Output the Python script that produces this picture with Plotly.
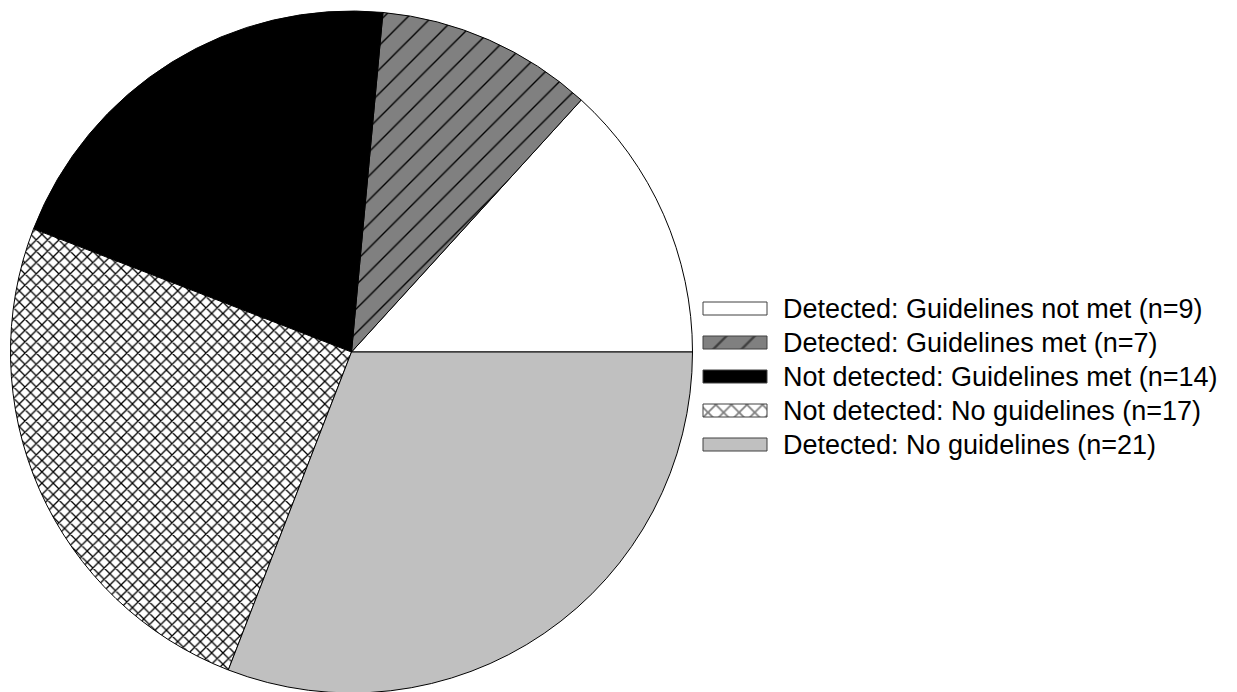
import plotly.graph_objects as go

labels = [
    "Detected: Guidelines not met (n=9)",
    "Detected: Guidelines met (n=7)",
    "Not detected: Guidelines met (n=14)",
    "Not detected: No guidelines (n=17)",
    "Detected: No guidelines (n=21)",
]
values = [9, 7, 14, 17, 21]
fill_colors = ["#ffffff", "#808080", "#000000", "#ffffff", "#c0c0c0"]
patterns = ["", "/", "", "x", ""]

W, H = 1237, 692
OFF = 8  # page body margin offset compensation

fig = go.Figure()

# first slice should begin at 3 o'clock and run counterclockwise
start_rot = 90 - 360 * values[0] / sum(values)

cx, cy, R = 351.5 - OFF, 352 - OFF, 341
fig.add_trace(go.Pie(
    labels=labels,
    values=values,
    sort=False,
    direction="counterclockwise",
    rotation=start_rot,
    textinfo="none",
    hoverinfo="skip",
    showlegend=False,
    marker=dict(
        colors=fill_colors,
        line=dict(color="black", width=1),
        pattern=dict(
            shape=patterns,
            fgcolor="black",
            bgcolor=fill_colors,
            size=[8, 17, 8, 8, 8],
            solidity=[0.1, 0.08, 0.1, 0.3, 0.1],
        ),
    ),
    domain=dict(x=[(cx - R) / W, (cx + R) / W],
                y=[(H - cy - R) / H, (H - cy + R) / H]),
))

# custom legend (wide swatches like the reference)
row0, step = 308.5 - OFF, 34.0
sx0, sx1, sh = 703 - OFF, 767 - OFF, 13
legend_sizes = [10, 20, 10, 11, 10]
for i, (lab, col, pat) in enumerate(zip(labels, fill_colors, patterns)):
    yc = row0 + i * step
    fp = None
    if pat:
        fp = dict(shape=pat, fgcolor="black", bgcolor=col, size=legend_sizes[i],
                  solidity=0.12 if pat == "/" else 0.3)
    fig.add_trace(go.Scatter(
        x=[sx0, sx1, sx1, sx0, sx0],
        y=[yc - sh / 2, yc - sh / 2, yc + sh / 2, yc + sh / 2, yc - sh / 2],
        mode="lines",
        fill="toself",
        fillcolor=col,
        fillpattern=fp,
        line=dict(color="#404040", width=1),
        hoverinfo="skip",
        showlegend=False,
        xaxis="x", yaxis="y",
    ))
    fig.add_annotation(
        x=783 - OFF - 2, y=yc, xref="x", yref="y",
        text=lab, showarrow=False, xanchor="left", yanchor="middle",
        font=dict(family="Liberation Sans, Arial, sans-serif", size=27, color="black"),
    )

fig.update_layout(
    width=W, height=H,
    margin=dict(l=0, r=0, t=0, b=0),
    paper_bgcolor="white",
    plot_bgcolor="rgba(0,0,0,0)",
    showlegend=False,
    xaxis=dict(range=[0, W], domain=[0, 1], visible=False, fixedrange=True),
    yaxis=dict(range=[H, 0], domain=[0, 1], visible=False, fixedrange=True),
)

fig.write_html("out.html")
